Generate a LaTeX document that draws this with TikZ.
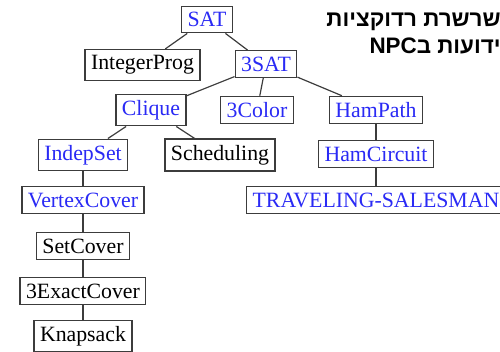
\documentclass[tikz,border=0pt]{standalone}
\usepackage{fontspec}
\setmainfont{Liberation Serif}
\newfontfamily\hebfont[Script=Hebrew]{Liberation Sans}
\TeXXeTstate=1
\usepackage{xcolor}
\usepackage{tikz}
\definecolor{probblue}{HTML}{2A2AF5}
\definecolor{edgegray}{HTML}{3C3C3C}
\tikzset{
  prob/.style={draw=edgegray,line width=0.6pt,fill=white,inner xsep=3pt,inner ysep=3pt,font=\fontsize{10.9}{13}\selectfont},
  npc/.style={prob,text=probblue},
  red/.style={edgegray,line width=0.6pt},
  heb/.style={font=\hebfont\bfseries\fontsize{11.2}{13}\selectfont,inner sep=0pt,anchor=base east}
}
\begin{document}
\begin{tikzpicture}[x=0.5pt,y=-0.5pt]
\useasboundingbox (0,0) rectangle (500,352);
% the reduction tree
\node[npc] (sat) at (207,19.5) {SAT};
\node[prob] (intprog) at (142.5,65) {IntegerProg};
\node[npc] (tsat) at (266,64) {3SAT};
\node[npc] (clique) at (151,110) {Clique};
\node[npc] (tcolor) at (257,110) {3Color};
\node[npc] (hampath) at (376,110) {HamPath};
\node[npc] (indep) at (83,155) {IndepSet};
\node[prob] (sched) at (220,155) {Scheduling};
\node[npc] (hamcirc) at (376,154) {HamCircuit};
\node[npc] (vcover) at (83,200) {VertexCover};
\node[npc] (tsp) at (376,200) {TRAVELING-SALESMAN};
\node[prob] (setcover) at (83,246) {SetCover};
\node[prob] (xcover) at (83,291) {3ExactCover};
\node[prob] (knap) at (83,336) {Knapsack};
\draw[red] (sat) -- (intprog);
\draw[red] (sat) -- (tsat);
\draw[red] (tsat) -- (clique);
\draw[red] (tsat) -- (tcolor);
\draw[red] (tsat) -- (hampath);
\draw[red] (clique) -- (indep);
\draw[red] (clique) -- (sched);
\draw[red] (hampath) -- (hamcirc);
\draw[red] (hamcirc) -- (tsp);
\draw[red] (indep) -- (vcover);
\draw[red] (vcover) -- (setcover);
\draw[red] (setcover) -- (xcover);
\draw[red] (xcover) -- (knap);
% title
\node[heb] (title1) at (501,27) {\beginR שרשרת רדוקציות\endR};
\node[heb] (title2) at (501,54) {\beginR ידועות ב\beginL NPC\endL\endR};
\end{tikzpicture}
\end{document}
